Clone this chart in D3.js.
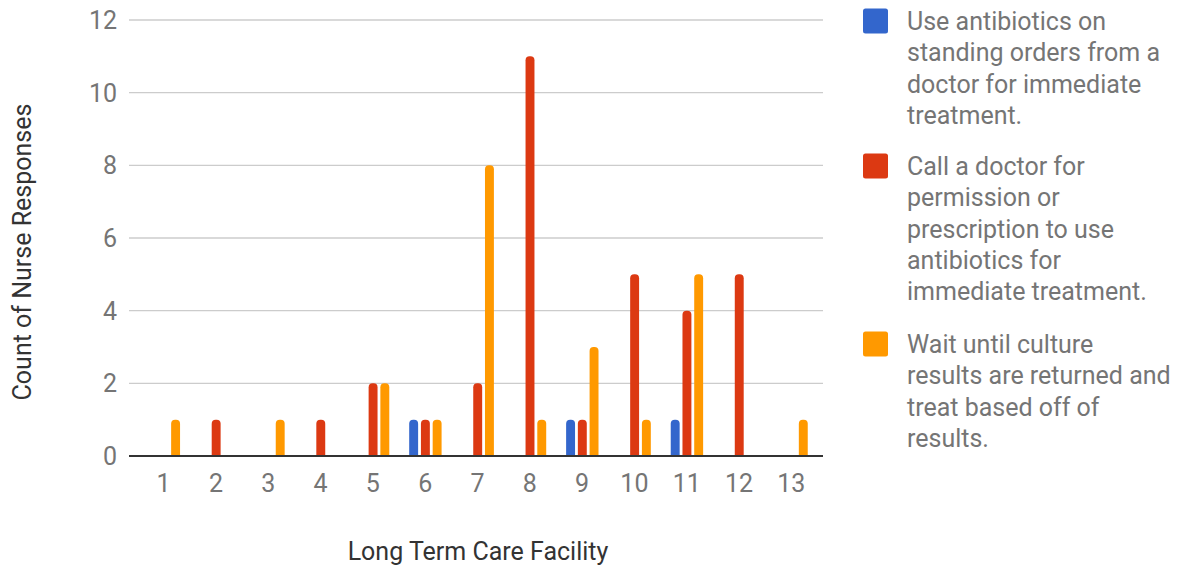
<!DOCTYPE html>
<html>
<head>
<meta charset="utf-8">
<script src="https://cdn.jsdelivr.net/npm/d3@7"></script>
<style>
  html, body { margin: 0; padding: 0; background: #fff; }
  svg { display: block; font-family: Roboto, "Noto Sans", Arial, sans-serif; }
</style>
</head>
<body>
<svg id="chart" width="1178" height="567"></svg>
<script>
// Facilities on the x axis
const facilities = ["1","2","3","4","5","6","7","8","9","10","11","12","13"];

// Series names (legend lines pre-split for wrapping)
const seriesNames = [
  ["Use antibiotics on", "standing orders from a", "doctor for immediate", "treatment."],
  ["Call a doctor for", "permission or", "prescription to use", "antibiotics for", "immediate treatment."],
  ["Wait until culture", "results are returned and", "treat based off of", "results."]
];
const seriesColors = ["#3366cc", "#dc3912", "#ff9900"];

// Count of nurse responses per facility, one array per series
const standingOrders = [0, 0, 0, 0, 0, 1, 0, 0, 1, 0, 1, 0, 0];
const callDoctor     = [0, 1, 0, 1, 2, 1, 2, 11, 1, 5, 4, 5, 0];
const waitCulture    = [1, 0, 1, 0, 2, 1, 8, 1, 3, 1, 5, 0, 1];
const seriesValues = [standingOrders, callDoctor, waitCulture];

const yTicks = [0, 2, 4, 6, 8, 10, 12];

const svg = d3.select("#chart");
const fontSize = 25;

const plot = { left: 129, right: 823, top: 20, bottom: 456 };

const x0 = d3.scaleBand()
  .domain(facilities)
  .range([137.5, 817.5])
  .paddingInner(0)
  .paddingOuter(0);

const x1 = d3.scaleBand()
  .domain([0, 1, 2])
  .range([-16, 16.4])
  .paddingInner(0.24)
  .paddingOuter(0);

const y = d3.scaleLinear().domain([0, 12]).range([plot.bottom, plot.top]);

// Gridlines
svg.append("g")
  .selectAll("line")
  .data(yTicks.filter(d => d !== 0))
  .join("line")
  .attr("x1", plot.left).attr("x2", plot.right)
  .attr("y1", d => y(d)).attr("y2", d => y(d))
  .attr("stroke", "#cccccc").attr("stroke-width", 1.3);

// Y tick labels
svg.append("g")
  .selectAll("text")
  .data(yTicks)
  .join("text")
  .attr("x", 117)
  .attr("y", d => y(d))
  .attr("dy", "0.36em")
  .attr("text-anchor", "end")
  .attr("font-size", fontSize)
  .attr("fill", "#757575")
  .text(d => d);

// Bars with rounded tops
function barPath(cx, w, y0, y1, r) {
  const xl = cx - w / 2, xr = cx + w / 2;
  const rr = Math.min(r, (y0 - y1));
  return `M${xl},${y0} L${xl},${y1 + rr} A${rr},${rr} 0 0 1 ${xl + rr},${y1}` +
         ` L${xr - rr},${y1} A${rr},${rr} 0 0 1 ${xr},${y1 + rr} L${xr},${y0} Z`;
}

const barData = [];
seriesValues.forEach((vals, s) => {
  vals.forEach((v, i) => {
    if (v > 0) barData.push({ facility: facilities[i], series: s, value: v });
  });
});

svg.append("g")
  .selectAll("path")
  .data(barData)
  .join("path")
  .attr("fill", d => seriesColors[d.series])
  .attr("d", d => {
    const cx = x0(d.facility) + x0.bandwidth() / 2 + x1(d.series) + x1.bandwidth() / 2;
    return barPath(cx, x1.bandwidth(), y(0), y(d.value), 4);
  });

// Baseline
svg.append("line")
  .attr("x1", plot.left).attr("x2", plot.right)
  .attr("y1", y(0)).attr("y2", y(0))
  .attr("stroke", "#333333").attr("stroke-width", 2);

// X tick labels
svg.append("g")
  .selectAll("text")
  .data(facilities)
  .join("text")
  .attr("x", d => x0(d) + x0.bandwidth() / 2)
  .attr("y", 483)
  .attr("dy", "0.36em")
  .attr("text-anchor", "middle")
  .attr("font-size", fontSize)
  .attr("fill", "#757575")
  .text(d => d);

// Axis titles
svg.append("text")
  .attr("x", 478).attr("y", 551)
  .attr("dy", "0.36em")
  .attr("text-anchor", "middle")
  .attr("font-size", fontSize)
  .attr("fill", "#333333")
  .text("Long Term Care Facility");

svg.append("text")
  .attr("transform", "translate(22,252) rotate(-90)")
  .attr("dy", "0.36em")
  .attr("text-anchor", "middle")
  .attr("font-size", fontSize)
  .attr("fill", "#333333")
  .text("Count of Nurse Responses");

// Legend
const legendTops = [21, 166, 344];
const lineH = 31.3;
const legend = svg.append("g");
seriesNames.forEach((lines, s) => {
  const g = legend.append("g");
  g.append("rect")
    .attr("x", 863).attr("y", legendTops[s] - 12.5)
    .attr("width", 25).attr("height", 25)
    .attr("rx", 2.5)
    .attr("fill", seriesColors[s]);
  g.selectAll("text")
    .data(lines)
    .join("text")
    .attr("x", 907)
    .attr("y", (d, i) => legendTops[s] + i * lineH)
    .attr("dy", "0.36em")
    .attr("font-size", fontSize)
    .attr("fill", "#757575")
    .text(d => d);
});
</script>
</body>
</html>
